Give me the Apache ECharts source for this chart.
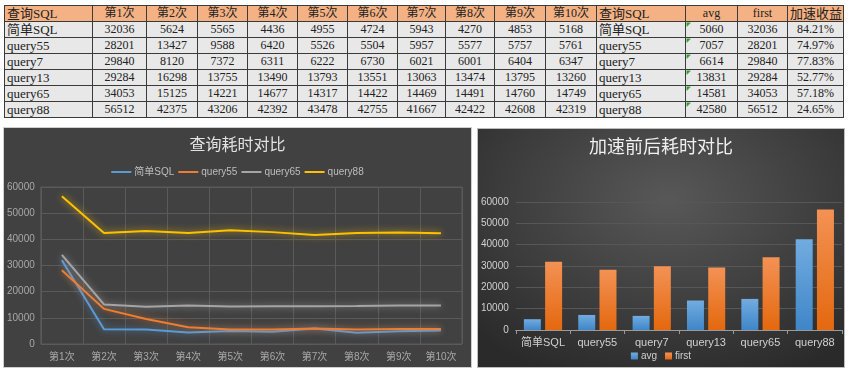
<!DOCTYPE html>
<html>
<head>
<meta charset="utf-8">
<script src="https://cdn.jsdelivr.net/npm/echarts@6/dist/echarts.min.js"></script>
<style>
  html, body { margin: 0; padding: 0; background: #fff; width: 852px; height: 374px; overflow: hidden; }
  #tbl { position: absolute; left: 4px; top: 5px; border-collapse: collapse; table-layout: fixed; width: 839px;
         font-family: "Liberation Serif", "DejaVu Serif", "Noto Sans CJK SC", serif; font-size: 12px; color: #222; }
  #tbl td { border: 1px solid #3a3a3a; height: 15px; padding: 0 2px; text-align: center; white-space: nowrap; overflow: hidden; line-height: 15px; }
  #tbl tr.hd td { background: #F4B183; }
  #tbl tr.rw td { background: #E8E8E8; }
  #tbl td.l { text-align: left; font-size: 13px; }
  #tbl td.tri { background: linear-gradient(135deg, #2e9a2e 0, #2e9a2e 3px, transparent 3px), #E8E8E8 !important; }
  #lineBox { position: absolute; left: 3px; top: 127px; width: 469px; height: 241px; box-sizing: border-box;
             border: 1px solid #cfcfcf; background: #414141; }
  #barBox { position: absolute; left: 477px; top: 128px; width: 368px; height: 240px; box-sizing: border-box;
            border: 1px solid #bdbdbd;
            background: radial-gradient(ellipse 75% 80% at 52% 30%, #585858 0%, #414141 50%, #2a2a2a 100%); }
  .chart { width: 100%; height: 100%; }
</style>
</head>
<body>
<table id="tbl"></table>
<div id="lineBox"><div id="line" class="chart"></div></div>
<div id="barBox"><div id="bar" class="chart"></div></div>
<script>
// ---- data ----
const queries = ['简单SQL', 'query55', 'query7', 'query13', 'query65', 'query88'];
const runs = ['第1次', '第2次', '第3次', '第4次', '第5次', '第6次', '第7次', '第8次', '第9次', '第10次'];
const tSimple  = [32036, 5624, 5565, 4436, 4955, 4724, 5943, 4270, 4853, 5168];
const tQuery55 = [28201, 13427, 9588, 6420, 5526, 5504, 5957, 5577, 5757, 5761];
const tQuery7  = [29840, 8120, 7372, 6311, 6222, 6730, 6021, 6001, 6404, 6347];
const tQuery13 = [29284, 16298, 13755, 13490, 13793, 13551, 13063, 13474, 13795, 13260];
const tQuery65 = [34053, 15125, 14221, 14677, 14317, 14422, 14469, 14491, 14760, 14749];
const tQuery88 = [56512, 42375, 43206, 42392, 43478, 42755, 41667, 42422, 42608, 42319];
const avgVals   = [5060, 7057, 6614, 13831, 14581, 42580];
const firstVals = [32036, 28201, 29840, 29284, 34053, 56512];
const gains = ['84.21%', '74.97%', '77.83%', '52.77%', '57.18%', '24.65%'];
const yTicksMax = 60000;

// ---- table ----
const colW = [88, 54, 51, 50, 50, 50, 50, 48, 49, 51, 51, 89, 52, 50, 56];
const allTimes = [tSimple, tQuery55, tQuery7, tQuery13, tQuery65, tQuery88];
(function buildTable() {
  const t = document.getElementById('tbl');
  let h = '<colgroup>' + colW.map(w => '<col style="width:' + w + 'px">').join('') + '</colgroup>';
  h += '<tr class="hd"><td class="l">查询SQL</td>' + runs.map(r => '<td>' + r + '</td>').join('') +
       '<td class="l">查询SQL</td><td>avg</td><td>first</td><td style="font-size:13px">加速收益</td></tr>';
  queries.forEach((q, i) => {
    h += '<tr class="rw"><td class="l">' + q + '</td>' + allTimes[i].map(v => '<td>' + v + '</td>').join('') +
         '<td class="l">' + q + '</td><td class="tri">' + avgVals[i] + '</td><td>' + firstVals[i] + '</td><td>' + gains[i] + '</td></tr>';
  });
  t.innerHTML = h;
})();

const sansFont = '"Liberation Sans", "Noto Sans CJK SC", sans-serif';
const plainNum = v => String(v);

// ---- line chart ----
const lineChart = echarts.init(document.getElementById('line'), null, { renderer: 'canvas' });
const lineSeries = [
  { name: '简单SQL', data: tSimple, color: '#5B9BD5', glow: 'rgba(91,155,213,0.8)' },
  { name: 'query55', data: tQuery55, color: '#ED7D31', glow: 'rgba(237,125,49,0.8)' },
  { name: 'query65', data: tQuery65, color: '#A5A5A5', glow: 'rgba(190,190,190,0.7)' },
  { name: 'query88', data: tQuery88, color: '#FFC000', glow: 'rgba(255,200,0,0.8)' }
];
lineChart.setOption({
  animation: false,
  textStyle: { fontFamily: sansFont },
  title: { text: '查询耗时对比', left: 'center', top: 5,
           textStyle: { color: '#e2e2e2', fontSize: 16, fontWeight: 'normal', fontFamily: sansFont } },
  legend: { top: 34, left: 'center', icon: 'rect', itemWidth: 20, itemHeight: 2, itemGap: 4,
            textStyle: { color: '#bdbdbd', fontSize: 10, padding: [0, 0, 0, -2] },
            data: lineSeries.map(s => s.name) },
  grid: { left: 36, right: 9, top: 59, bottom: 23, show: true, borderColor: '#5a5a5a', borderWidth: 1 },
  xAxis: { type: 'category', data: runs, boundaryGap: true,
           axisLine: { show: false }, axisTick: { show: false },
           axisLabel: { color: '#a8a8a8', fontSize: 10, margin: 8, interval: 0 },
           splitLine: { show: true, lineStyle: { color: '#5a5a5a', width: 1 } } },
  yAxis: { type: 'value', min: 0, max: yTicksMax, interval: 10000,
           axisLine: { show: false }, axisTick: { show: false },
           axisLabel: { color: '#a8a8a8', fontSize: 10, margin: 6, formatter: plainNum },
           splitLine: { lineStyle: { color: '#5a5a5a', width: 1 } } },
  series: lineSeries.map(s => ({
    name: s.name, type: 'line', data: s.data, showSymbol: false, symbol: 'none',
    color: s.color,
    lineStyle: { color: s.color, width: 2, shadowBlur: 7, shadowColor: s.glow }
  }))
});

// ---- bar chart ----
const barChart = echarts.init(document.getElementById('bar'), null, { renderer: 'canvas' });
barChart.setOption({
  animation: false,
  textStyle: { fontFamily: sansFont },
  title: { text: '加速前后耗时对比', left: 'center', top: 5,
           textStyle: { color: '#efefef', fontSize: 18, fontWeight: 'normal', fontFamily: sansFont } },
  legend: { bottom: 1, left: 'center', itemWidth: 7, itemHeight: 7, itemGap: 8,
            textStyle: { color: '#cfcfcf', fontSize: 10, padding: [0, 0, 0, -2] },
            data: [{ name: 'avg', icon: 'rect' }, { name: 'first', icon: 'rect' }] },
  grid: { left: 34, right: 2, top: 73, bottom: 37 },
  xAxis: { type: 'category', data: queries,
           axisLine: { show: true, lineStyle: { color: '#9a9a9a', width: 1 } },
           axisTick: { show: true, length: 4, lineStyle: { color: '#9a9a9a' } },
           axisLabel: { color: '#d0d0d0', fontSize: 11, margin: 7, interval: 0 } },
  yAxis: { type: 'value', min: 0, max: yTicksMax, interval: 10000,
           axisLine: { show: false }, axisTick: { show: false },
           axisLabel: { color: '#d0d0d0', fontSize: 10, margin: 7, formatter: plainNum },
           splitLine: { lineStyle: { color: '#575757', width: 1 } } },
  series: [
    { name: 'avg', type: 'bar', data: avgVals, barWidth: 17, barGap: '25%',
      color: '#5B9BD5',
      itemStyle: { color: { type: 'linear', x: 0, y: 0, x2: 0, y2: 1,
        colorStops: [{ offset: 0, color: '#72ACE0' }, { offset: 1, color: '#3F86C8' }] } } },
    { name: 'first', type: 'bar', data: firstVals, barWidth: 17,
      color: '#ED7D31',
      itemStyle: { color: { type: 'linear', x: 0, y: 0, x2: 0, y2: 1,
        colorStops: [{ offset: 0, color: '#F39255' }, { offset: 1, color: '#E4680E' }] } } }
  ]
});
</script>
</body>
</html>
